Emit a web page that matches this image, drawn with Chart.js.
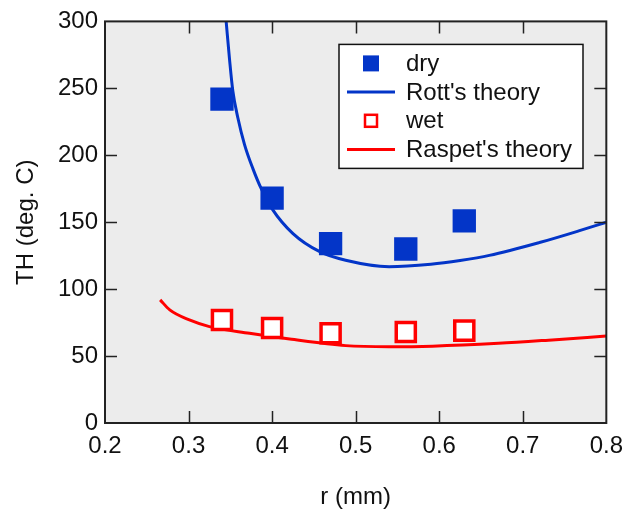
<!DOCTYPE html>
<html>
<head>
<meta charset="utf-8">
<script src="https://cdn.jsdelivr.net/npm/chart.js@4/dist/chart.umd.min.js"></script>
<style>
html, body { margin: 0; padding: 0; background: #fff; }
</style>
</head>
<body>
<canvas id="mychart" width="632" height="517"></canvas>
<script>
// measured points
let dryX = [0.34, 0.40, 0.47, 0.56, 0.63];
let dryY = [242, 168, 134, 130, 151];
let wetX = [0.34, 0.40, 0.47, 0.56, 0.63];
let wetY = [77, 71, 67, 68, 69];

// theory curves
let rottX = [0.345, 0.349, 0.353, 0.359, 0.367, 0.377, 0.387, 0.400, 0.425, 0.457, 0.488, 0.540, 0.590, 0.625, 0.660, 0.720, 0.767, 0.800];
let rottY = [300, 272, 248, 228, 208, 190, 175, 160, 141.5, 128, 121.6, 116.8, 118.6, 121.4, 125.2, 134.8, 143.5, 150];
let raspetX = [0.266, 0.2775, 0.301, 0.325, 0.373, 0.421, 0.488, 0.540, 0.592, 0.671, 0.731, 0.800];
let raspetY = [92, 84.5, 77, 72, 67, 62.7, 57.8, 57, 57.4, 59.5, 61.9, 65];

let xTicks = [0.2, 0.3, 0.4, 0.5, 0.6, 0.7, 0.8];
let yTicks = [0, 50, 100, 150, 200, 250, 300];

const blue = '#0335c8';
const red = '#ff0000';

function pts(xs, ys) {
    return xs.map((x, i) => ({x: x, y: ys[i]}));
}

Chart.defaults.font.family = '"Liberation Sans", Arial, sans-serif';
Chart.defaults.font.size = 24;
Chart.defaults.color = '#111';

// gray plot area, boxed frame with inward ticks, legend inside
let framePlugin = {
    id: 'framePlugin',
    beforeDatasetsDraw(chart) {
        let a = chart.chartArea, c = chart.ctx;
        c.save();
        c.fillStyle = '#ececec';
        c.fillRect(a.left, a.top, a.right - a.left, a.bottom - a.top);
        c.restore();
    },
    afterDatasetsDraw(chart) {
        let a = chart.chartArea, c = chart.ctx;
        let sx = chart.scales.x, sy = chart.scales.y;
        c.save();
        c.strokeStyle = '#222';
        c.lineWidth = 2;
        c.strokeRect(a.left, a.top, a.right - a.left, a.bottom - a.top);
        c.lineWidth = 1.5;
        c.beginPath();
        xTicks.slice(1, -1).forEach(v => {
            let p = Math.round(sx.getPixelForValue(v)) + 0.5;
            c.moveTo(p, a.bottom); c.lineTo(p, a.bottom - 12);
            c.moveTo(p, a.top); c.lineTo(p, a.top + 12);
        });
        yTicks.slice(1, -1).forEach(v => {
            let p = Math.round(sy.getPixelForValue(v)) + 0.5;
            c.moveTo(a.left, p); c.lineTo(a.left + 12, p);
            c.moveTo(a.right, p); c.lineTo(a.right - 12, p);
        });
        c.stroke();

        // legend box
        let bx = a.left + 234, by = a.top + 23, bw = 244, bh = 124;
        c.fillStyle = '#fff';
        c.fillRect(bx, by, bw, bh);
        c.strokeStyle = '#111';
        c.lineWidth = 1.5;
        c.strokeRect(bx, by, bw, bh);
        c.font = '24px "Liberation Sans", Arial, sans-serif';
        c.textBaseline = 'middle';
        chart.data.datasets.forEach((ds, i) => {
            let cy = by + 19 + i * 28.7;
            let mx = bx + 32;
            if (ds.showLine) {
                c.strokeStyle = ds.borderColor;
                c.lineWidth = 3;
                c.beginPath();
                c.moveTo(bx + 8, cy); c.lineTo(bx + 56, cy);
                c.stroke();
            } else if (ds.pointBackgroundColor === '#fff') {
                c.fillStyle = '#fff';
                c.strokeStyle = ds.pointBorderColor;
                c.lineWidth = 2.5;
                c.fillRect(mx - 6, cy - 6, 12, 12);
                c.strokeRect(mx - 6, cy - 6, 12, 12);
            } else {
                c.fillStyle = ds.pointBackgroundColor;
                c.fillRect(mx - 8, cy - 8, 16, 16);
            }
            c.fillStyle = '#111';
            c.fillText(ds.label, bx + 67, cy + 1);
        });
        c.restore();
    }
};

let ctx = document.querySelector('#mychart').getContext('2d');
let myChart = new Chart(ctx, {
    type: 'scatter',
    data: {
        datasets: [{
            label: 'dry',
            data: pts(dryX, dryY),
            pointStyle: 'rect',
            pointRadius: 16.5,
            pointBackgroundColor: blue,
            pointBorderColor: blue,
            pointBorderWidth: 0,
            order: 1
        }, {
            label: "Rott's theory",
            data: pts(rottX, rottY),
            showLine: true,
            borderColor: blue,
            borderWidth: 3,
            pointRadius: 0,
            cubicInterpolationMode: 'monotone',
            order: 3
        }, {
            label: 'wet',
            data: pts(wetX, wetY),
            pointStyle: 'rect',
            pointRadius: 13.5,
            pointBackgroundColor: '#fff',
            pointBorderColor: red,
            pointBorderWidth: 3.5,
            order: 2
        }, {
            label: "Raspet's theory",
            data: pts(raspetX, raspetY),
            showLine: true,
            borderColor: red,
            borderWidth: 3,
            pointRadius: 0,
            cubicInterpolationMode: 'monotone',
            order: 4
        }]
    },
    options: {
        responsive: false,
        animation: false,
        layout: { padding: { left: 0, top: 21, right: 24, bottom: 0 } },
        plugins: {
            legend: { display: false },
            tooltip: { enabled: false }
        },
        scales: {
            x: {
                type: 'linear',
                min: 0.2,
                max: 0.8,
                afterBuildTicks: s => { s.ticks = xTicks.map(v => ({value: v})); },
                afterFit: s => { s.height = 94; },
                grid: { display: false, drawTicks: false },
                border: { display: false },
                ticks: { padding: 9, maxRotation: 0, callback: v => v.toFixed(1) },
                title: { display: true, text: 'r (mm)', padding: { top: 0, bottom: 5 } }
            },
            y: {
                type: 'linear',
                min: 0,
                max: 300,
                afterBuildTicks: s => { s.ticks = yTicks.map(v => ({value: v})); },
                afterFit: s => { s.width = 105; },
                grid: { display: false, drawTicks: false },
                border: { display: false },
                ticks: { padding: 7, callback: v => String(v) },
                title: { display: true, text: 'TH (deg. C)', padding: { top: 12, bottom: 0 } }
            }
        }
    },
    plugins: [framePlugin]
});
</script>
</body>
</html>
